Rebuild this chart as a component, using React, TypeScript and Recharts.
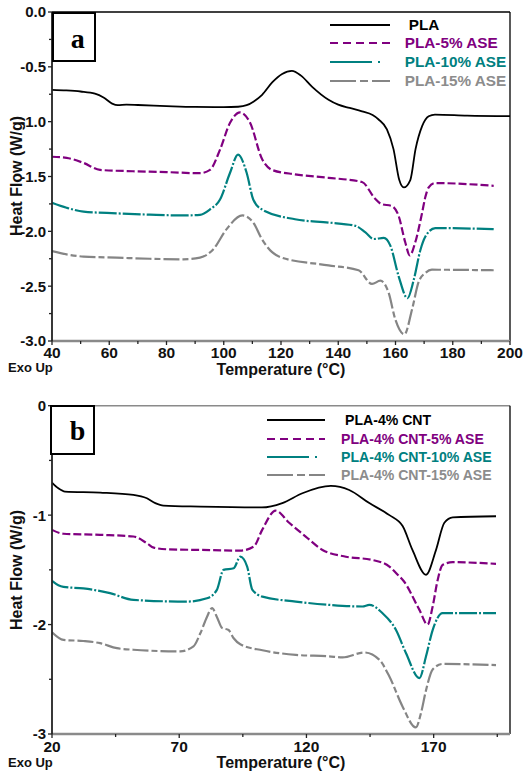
import React from "react";
import { LineChart, Line, XAxis, YAxis, ReferenceLine } from "recharts";

// DSC traces, [temperature °C, heat flow W/g]
const plaA = [
  [40, -0.71], [45, -0.715], [50, -0.725], [55, -0.745], [58, -0.78], [61, -0.835], [63, -0.85],
  [66, -0.845], [70, -0.848], [80, -0.858], [90, -0.866], [100, -0.868], [105, -0.864], [108, -0.85],
  [110.5, -0.815], [113.4, -0.755], [117, -0.64], [120.4, -0.565], [123.8, -0.536], [127, -0.58],
  [130.8, -0.68], [136.6, -0.8], [140, -0.845], [144, -0.875], [148.3, -0.906], [152, -0.94],
  [154.1, -0.98], [157, -1.07], [159.3, -1.25], [161.3, -1.53], [162.9, -1.6], [165.2, -1.53],
  [167, -1.25], [169.3, -1.04], [171.6, -0.95], [173.8, -0.935], [185, -0.945], [200, -0.95],
];
const ase5A = [
  [40, -1.32], [45.1, -1.33], [50.9, -1.375], [56.8, -1.44], [68.3, -1.452], [80, -1.46],
  [91.7, -1.47], [95.2, -1.44], [98.7, -1.255], [102.2, -1.01], [105.7, -0.915], [109.2, -1.01],
  [113.3, -1.335], [116.9, -1.44], [124.9, -1.48], [136.6, -1.512], [148.3, -1.55], [152.8, -1.7],
  [155, -1.75], [158.8, -1.77], [161.1, -1.86], [163.4, -2.1], [165, -2.22], [166.9, -2.1],
  [169.3, -1.83], [170.4, -1.69], [171.6, -1.6], [173.8, -1.56], [194.3, -1.585],
];
const ase10A = [
  [40, -1.74], [45.1, -1.785], [51, -1.82], [62.6, -1.836], [74.2, -1.848], [85.9, -1.855],
  [91.7, -1.85], [95.2, -1.8], [98.7, -1.71], [102.2, -1.466], [105, -1.3], [108, -1.466],
  [110.3, -1.71], [113.3, -1.8], [124.9, -1.89], [136.6, -1.92], [146, -1.95], [149.5, -2.01],
  [152.4, -2.07], [155.9, -2.06], [158.2, -2.13], [161.1, -2.41], [164.2, -2.61], [166.4, -2.44],
  [168.7, -2.17], [170.4, -2.05], [173.9, -1.97], [194.3, -1.98],
];
const ase15A = [
  [40, -2.18], [45.1, -2.21], [51, -2.23], [62.6, -2.24], [74.2, -2.25], [85.9, -2.255],
  [91.7, -2.24], [96.3, -2.165], [101, -1.98], [106.5, -1.855], [110.3, -1.92], [113.3, -2.07],
  [116.9, -2.19], [120.3, -2.24], [136.6, -2.31], [147.1, -2.355], [151.8, -2.48], [154.7, -2.45],
  [157.6, -2.56], [159.9, -2.8], [163.1, -2.94], [165.8, -2.71], [168.1, -2.46], [170.4, -2.38],
  [172.7, -2.35], [194.3, -2.355],
];

const cntB = [
  [20, -0.703], [22.5, -0.755], [25.1, -0.785], [38.9, -0.794], [52, -0.815], [57.3, -0.846],
  [60.6, -0.89], [63.8, -0.913], [78.3, -0.922], [102.5, -0.93], [110.5, -0.89], [118.4, -0.8],
  [129.6, -0.733], [136.8, -0.77], [144.7, -0.89], [152.6, -1.0], [157.8, -1.1], [161.7, -1.32],
  [167, -1.545], [170.9, -1.32], [174.2, -1.07], [177.5, -1.02], [194.5, -1.01],
];
const cnt5B = [
  [20, -1.135], [24.5, -1.17], [38.9, -1.18], [52, -1.195], [57.3, -1.257], [60, -1.297],
  [65.2, -1.312], [78.3, -1.318], [94, -1.324], [99.3, -1.287], [102.6, -1.135], [107.9, -0.959],
  [113.2, -1.07], [119.7, -1.196], [126.3, -1.318], [135.5, -1.38], [146, -1.41], [152.6, -1.47],
  [156.5, -1.56], [157.8, -1.59], [164.4, -1.866], [167.6, -2.0], [169.6, -1.835], [171.6, -1.59],
  [173.5, -1.455], [177.5, -1.43], [194.5, -1.445],
];
const cnt10B = [
  [20, -1.6], [22.5, -1.64], [24.5, -1.655], [32.3, -1.67], [42.8, -1.713], [52, -1.775],
  [73, -1.79], [80.9, -1.76], [84.8, -1.683], [87.4, -1.5], [91.4, -1.485], [94, -1.38],
  [96.7, -1.47], [98.7, -1.68], [102.7, -1.745], [115.8, -1.79], [128.9, -1.82], [142, -1.835],
  [144.7, -1.82], [149.9, -1.896], [155.2, -2.05], [159.1, -2.26], [164.4, -2.49], [167, -2.29],
  [169.6, -2.05], [173.5, -1.895], [194.5, -1.895],
];
const cnt15B = [
  [20, -2.07], [24.5, -2.14], [32.3, -2.15], [38.9, -2.17], [45.5, -2.216], [52, -2.23],
  [70.4, -2.245], [75.6, -2.2], [78.3, -2.08], [80.9, -1.93], [82.9, -1.85], [84.8, -1.93],
  [86.8, -2.03], [89.4, -2.05], [91.4, -2.125], [94, -2.18], [102.7, -2.235], [115.8, -2.277],
  [128.9, -2.29], [134.2, -2.3], [142.7, -2.255], [148.6, -2.32], [152.6, -2.475], [157.8, -2.75],
  [163, -2.94], [165, -2.81], [167, -2.6], [169.6, -2.41], [173.5, -2.36], [194.5, -2.37],
];

const xTicksA = [40, 50, 60, 70, 80, 90, 100, 110, 120, 130, 140, 150, 160, 170, 180, 190, 200];
const yTicksA = [0, -0.25, -0.5, -0.75, -1, -1.25, -1.5, -1.75, -2, -2.25, -2.5, -2.75, -3];
const xTicksB = [20, 45, 70, 95, 120, 145, 170, 195];
const yTicksB = [0, -0.5, -1, -1.5, -2, -2.5, -3];

const namesA = ["PLA", "PLA-5% ASE", "PLA-10% ASE", "PLA-15% ASE"];
const namesB = ["PLA-4% CNT", "PLA-4% CNT-5% ASE", "PLA-4% CNT-10% ASE", "PLA-4% CNT-15% ASE"];

const FONT = "'Liberation Sans', Arial, sans-serif";
const styles = [
  { color: "#000000", dash: undefined, legDash: undefined, w: 1.8 },
  { color: "#800080", dash: "8 3", legDash: "8 5", w: 2.2 },
  { color: "#008080", dash: "18 2 2 2", legDash: "42 6 2 20", w: 2.2 },
  { color: "#858585", dash: "16 3 6 3", legDash: "26 4 8 4", w: 2.2 },
];
const textColors = ["#000000", "#800080", "#008080", "#8c8c8c"];

const toPts = (arr: number[][]) => arr.map(([t, v]) => ({ t, v }));

const makeYTick = (isMajor: (v: number) => boolean, fmt: (v: number) => string) => (p: any) => {
  const { x, y, payload } = p;
  const major = isMajor(payload.value);
  return (
    <g>
      <line x1={x + 6 - (major ? 4 : 3)} x2={x + 6} y1={y} y2={y} stroke="#222" strokeWidth={1.3} />
      {major && (
        <text x={x} y={y} dy="0.36em" textAnchor="end" fontFamily={FONT} fontWeight="bold" fontSize={15} fill="#111">
          {fmt(payload.value)}
        </text>
      )}
    </g>
  );
};

const makeXTick = (isMajor: (v: number) => boolean, m: number) => (p: any) => {
  const { x, y, payload } = p;
  const major = isMajor(payload.value);
  return (
    <g>
      <line x1={x} x2={x} y1={y - m} y2={y - m + (major ? 4 : 3)} stroke="#222" strokeWidth={1.3} />
      {major && (
        <text x={x} y={y} dy="0.71em" textAnchor="middle" fontFamily={FONT} fontWeight="bold" fontSize={15.5} fill="#111">
          {payload.value}
        </text>
      )}
    </g>
  );
};

function LegendBox({ names, top, left, lineLeft, lineW, gap, fontSize, rows }: any) {
  return (
    <div style={{ position: "absolute", top, left: 0 }}>
      {names.map((n: string, i: number) => (
        <div key={n} style={{ position: "absolute", top: rows[i] - top - 10, left: 0, height: 20, width: 524 }}>
          <svg style={{ position: "absolute", left: lineLeft, top: 0 }} width={lineW} height={20}>
            <line x1={0} x2={lineW} y1={10} y2={10} stroke={styles[i].color} strokeWidth={2} strokeDasharray={styles[i].legDash} />
          </svg>
          <span
            style={{
              position: "absolute",
              left: left + (i === 0 ? gap : 0),
              top: 0,
              lineHeight: "20px",
              fontFamily: FONT,
              fontWeight: "bold",
              fontSize,
              color: textColors[i],
              whiteSpace: "nowrap",
            }}
          >
            {n}
          </span>
        </div>
      ))}
    </div>
  );
}

const lbl = (extra: React.CSSProperties): React.CSSProperties => ({
  position: "absolute",
  fontFamily: FONT,
  fontWeight: "bold",
  color: "#111",
  whiteSpace: "nowrap",
  ...extra,
});

function Panel({ top, height, margin, xDomain, xTicks, yTicks, isMajX, isMajY, fmtY, series, topColor, xm }: any) {
  return (
    <div style={{ position: "absolute", top, left: 0 }}>
      <LineChart width={524} height={height} margin={margin}>
        <XAxis
          type="number"
          dataKey="t"
          domain={xDomain}
          ticks={xTicks}
          interval={0}
          height={30}
          tickSize={0}
          tickMargin={xm}
          tickLine={false}
          axisLine={{ stroke: "#8a8a8a", strokeWidth: 2.5 }}
          tick={makeXTick(isMajX, xm)}
          allowDataOverflow
        />
        <YAxis
          type="number"
          domain={[-3, 0]}
          ticks={yTicks}
          interval={0}
          width={40}
          tickSize={0}
          tickMargin={6}
          tickLine={false}
          axisLine={{ stroke: "#222", strokeWidth: 1.8 }}
          tick={makeYTick(isMajY, fmtY)}
          allowDataOverflow
        />
        <ReferenceLine y={0} stroke={topColor} strokeWidth={1.5} />
        <ReferenceLine x={xDomain[1]} stroke="#000" strokeWidth={1.3} />
        {series.map((s: number[][], i: number) => (
          <Line
            key={i}
            data={toPts(s)}
            dataKey="v"
            type="monotone"
            stroke={styles[i].color}
            strokeWidth={styles[i].w}
            strokeDasharray={styles[i].dash}
            dot={false}
            activeDot={false}
            isAnimationActive={false}
          />
        ))}
      </LineChart>
    </div>
  );
}

export default function App() {
  return (
    <div style={{ position: "absolute", left: 0, top: 0, width: 524, height: 776, background: "#fff" }}>
      <Panel
        top={0}
        height={390}
        margin={{ top: 12, right: 14, bottom: 19, left: 12 }}
        xDomain={[40, 200]}
        xTicks={xTicksA}
        yTicks={yTicksA}
        isMajX={(v: number) => v % 20 === 0}
        isMajY={(v: number) => Math.abs(v * 2 - Math.round(v * 2)) < 1e-6}
        fmtY={(v: number) => (v === 0 ? "0.0" : v.toFixed(1))}
        series={[plaA, ase5A, ase10A, ase15A]}
        topColor="#000"
        xm={6}
      />
      <Panel
        top={390}
        height={386}
        margin={{ top: 15.7, right: 14, bottom: 12, left: 12 }}
        xDomain={[20, 200]}
        xTicks={xTicksB}
        yTicks={yTicksB}
        isMajX={(v: number) => (v - 20) % 50 === 0}
        isMajY={(v: number) => Number.isInteger(v)}
        fmtY={(v: number) => String(v)}
        series={[cntB, cnt5B, cnt10B, cnt15B]}
        topColor="#8a8a8a"
        xm={7}
      />

      <LegendBox names={namesA} top={0} left={404.7} gap={4} lineLeft={330} lineW={60} fontSize={15.3} rows={[25, 43, 62, 81]} />
      <LegendBox names={namesB} top={390} left={341} gap={4} lineLeft={267} lineW={58} fontSize={14.1} rows={[420, 439, 456.7, 475]} />

      <div style={{ position: "absolute", left: 52, top: 12, width: 44, height: 50, border: "2px solid #000", boxSizing: "border-box", background: "#fff" }} />
      <div style={lbl({ left: 70.7, top: 24.7, fontFamily: "'Liberation Serif', 'Times New Roman', serif", fontSize: 28, lineHeight: "28px", color: "#000" })}>a</div>
      <div style={{ position: "absolute", left: 50, top: 405, width: 45, height: 50, border: "2px solid #000", boxSizing: "border-box", background: "#fff" }} />
      <div style={lbl({ left: 69.7, top: 416.6, fontFamily: "'Liberation Serif', 'Times New Roman', serif", fontSize: 28, lineHeight: "28px", color: "#000" })}>b</div>

      <div style={lbl({ left: 17, top: 176, fontSize: 16, transform: "translate(-50%, -50%) rotate(-90deg)" })}>Heat Flow (W/g)</div>
      <div style={lbl({ left: 17, top: 570, fontSize: 16, transform: "translate(-50%, -50%) rotate(-90deg)" })}>Heat Flow (W/g)</div>
      <div style={lbl({ left: 281, top: 370, fontSize: 16, transform: "translate(-50%, -50%)" })}>Temperature (°C)</div>
      <div style={lbl({ left: 281, top: 763, fontSize: 16, transform: "translate(-50%, -50%)" })}>Temperature (°C)</div>
      <div style={lbl({ left: 8, top: 366.7, fontSize: 13, transform: "translateY(-50%)" })}>Exo Up</div>
      <div style={lbl({ left: 8, top: 761.7, fontSize: 13, transform: "translateY(-50%)" })}>Exo Up</div>
    </div>
  );
}
